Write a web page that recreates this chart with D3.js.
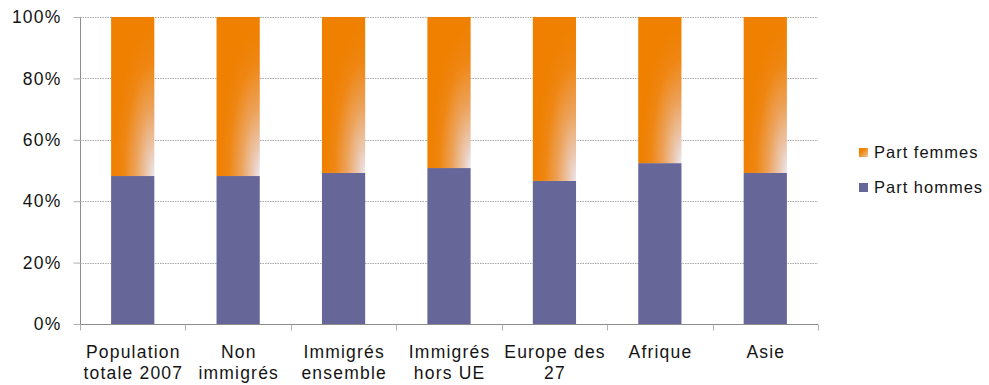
<!DOCTYPE html>
<html>
<head>
<meta charset="utf-8">
<script src="https://cdn.jsdelivr.net/npm/d3@7"></script>
<style>
  html, body { margin: 0; padding: 0; background: #fff; }
  svg { display: block; font-family: "Liberation Sans", Arial, Helvetica, sans-serif; }
</style>
</head>
<body>
<svg id="chart" width="989" height="385"></svg>
<script>
// Population by sex: share of men and women per group (percent)
const categories = [
  "Population\ntotale 2007",
  "Non\nimmigrés",
  "Immigrés\nensemble",
  "Immigrés\nhors UE",
  "Europe des\n27",
  "Afrique",
  "Asie"
];
const partHommes = [48.2, 48.2, 49.2, 50.8, 46.6, 52.4, 49.2];
const partFemmes = partHommes.map(v => 100 - v);
const yTicks = [0, 20, 40, 60, 80, 100];
const seriesNames = ["Part femmes", "Part hommes"];

const svg = d3.select("#chart");
const margin = { left: 80, right: 171, top: 17, bottom: 61 };
const W = 989, H = 385;
const tracking = 1.2;
const fontSize = 17.5;

const x = d3.scaleBand()
  .domain(categories)
  .range([margin.left, W - margin.right])
  .padding(0);
const y = d3.scaleLinear()
  .domain([0, 100])
  .range([H - margin.bottom, margin.top]);

const barW = x.bandwidth() * 0.41;

// Orange fill that fades toward the lower-right corner
const defs = svg.append("defs");
const grad = defs.append("radialGradient")
  .attr("id", "femmesGrad")
  .attr("cx", 1).attr("cy", 1).attr("fx", 1).attr("fy", 1).attr("r", 0.95);
grad.append("stop").attr("offset", 0).attr("stop-color", "#ebe7ee");
grad.append("stop").attr("offset", 0.18).attr("stop-color", "#ebc8b0");
grad.append("stop").attr("offset", 0.45).attr("stop-color", "#eca25a");
grad.append("stop").attr("offset", 0.75).attr("stop-color", "#ef8612");
grad.append("stop").attr("offset", 1).attr("stop-color", "#ef8000");

const legGrad = defs.append("linearGradient")
  .attr("id", "legGrad")
  .attr("x1", 0).attr("y1", 0).attr("x2", 1).attr("y2", 1);
legGrad.append("stop").attr("offset", 0.3).attr("stop-color", "#ef8000");
legGrad.append("stop").attr("offset", 1).attr("stop-color", "#f0c49a");

const colHommes = "#666699";

// Dotted horizontal gridlines
svg.append("g")
  .selectAll("line")
  .data(yTicks.filter(d => d > 0))
  .join("line")
  .attr("x1", margin.left).attr("x2", W - margin.right)
  .attr("y1", d => Math.round(y(d)) + 0.5).attr("y2", d => Math.round(y(d)) + 0.5)
  .attr("stroke", "#a8a8a8")
  .attr("stroke-width", 1)
  .attr("stroke-dasharray", "1.5,1");

// Stacked bars
const bars = svg.append("g");
bars.selectAll("rect.h")
  .data(categories)
  .join("rect")
  .attr("class", "h")
  .attr("x", d => x(d) + (x.bandwidth() - barW) / 2)
  .attr("width", barW)
  .attr("y", (d, i) => y(partHommes[i]))
  .attr("height", (d, i) => y(0) - y(partHommes[i]))
  .attr("fill", colHommes);
bars.selectAll("rect.f")
  .data(categories)
  .join("rect")
  .attr("class", "f")
  .attr("x", d => x(d) + (x.bandwidth() - barW) / 2)
  .attr("width", barW)
  .attr("y", (d, i) => y(partHommes[i] + partFemmes[i]))
  .attr("height", (d, i) => y(partHommes[i]) - y(partHommes[i] + partFemmes[i]))
  .attr("fill", "url(#femmesGrad)");

// Y axis
const yAxis = svg.append("g")
  .attr("transform", `translate(${margin.left + 0.5},0)`)
  .call(d3.axisLeft(y).tickValues(yTicks).tickFormat(d => d + "%").tickSize(7).tickPadding(12));
yAxis.select(".domain").attr("stroke", "#8c8c8c").attr("d", `M0,${y(100)}V${y(0)}`);
yAxis.selectAll(".tick line").attr("stroke", "#b0b0b0");
yAxis.selectAll(".tick text")
  .attr("font-size", fontSize).attr("fill", "#141414")
  .attr("letter-spacing", tracking)
  .attr("font-family", "'Liberation Sans', Arial, Helvetica, sans-serif");

// X axis with category boundary ticks
const xAxisG = svg.append("g")
  .attr("transform", `translate(0,${Math.round(y(0)) + 0.5})`);
xAxisG.append("line")
  .attr("x1", margin.left).attr("x2", W - margin.right)
  .attr("stroke", "#8c8c8c");
const bounds = categories.map(c => x(c)).concat([x(categories[categories.length - 1]) + x.bandwidth()]);
xAxisG.selectAll("line.b")
  .data(bounds)
  .join("line")
  .attr("class", "b")
  .attr("x1", d => Math.round(d) + 0.5).attr("x2", d => Math.round(d) + 0.5)
  .attr("y1", 0).attr("y2", 6)
  .attr("stroke", "#b0b0b0");

const xl = xAxisG.selectAll("text.cat")
  .data(categories)
  .join("text")
  .attr("class", "cat")
  .attr("x", d => x(d) + x.bandwidth() / 2)
  .attr("y", 33)
  .attr("text-anchor", "middle")
  .attr("font-size", fontSize)
  .attr("letter-spacing", tracking)
  .attr("fill", "#141414");
xl.each(function(d) {
  const t = d3.select(this);
  d.split("\n").forEach((line, i) => {
    t.append("tspan")
      .attr("x", x(d) + x.bandwidth() / 2 + tracking / 2)
      .attr("dy", i === 0 ? 0 : 21)
      .text(line);
  });
});

// Legend
const legend = svg.append("g").attr("transform", "translate(859,0)");
const legItems = [
  { name: seriesNames[0], fill: "url(#legGrad)", y: 148 },
  { name: seriesNames[1], fill: colHommes, y: 183 }
];
legend.selectAll("rect")
  .data(legItems)
  .join("rect")
  .attr("x", 0).attr("y", d => d.y)
  .attr("width", 9).attr("height", 9)
  .attr("fill", d => d.fill);
legend.selectAll("text")
  .data(legItems)
  .join("text")
  .attr("x", 15).attr("y", d => d.y + 10)
  .attr("font-size", 16.5)
  .attr("letter-spacing", 1.0)
  .attr("fill", "#141414")
  .text(d => d.name);
</script>
</body>
</html>
